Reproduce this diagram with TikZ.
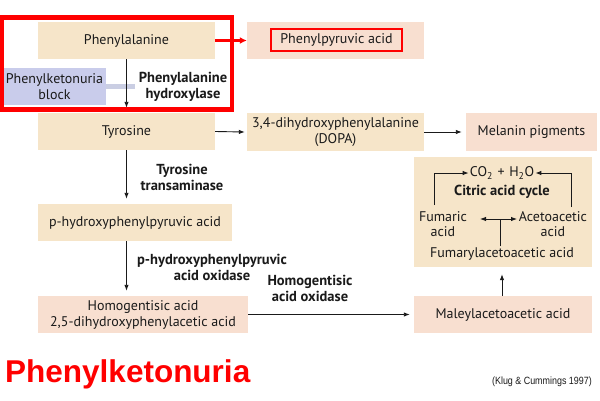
\documentclass[tikz,border=0pt]{standalone}
\usepackage{fontspec}
\setmainfont{PT Sans}
\newfontfamily\arialfont{Liberation Sans}
\usetikzlibrary{arrows.meta,calc,positioning}
\definecolor{tan}{HTML}{F6E5C9}
\definecolor{blush}{HTML}{F8DFD0}
\definecolor{pkublue}{HTML}{C9CCEB}
\definecolor{bargrey}{HTML}{CACEE3}
\definecolor{alarm}{HTML}{FF0000}
\definecolor{ink}{HTML}{1A1A1A}

\tikzset{
  chem/.style={fill=tan, inner sep=0pt, minimum height=37pt, align=center,
    text=ink, font=\fontsize{14}{16}\selectfont},
  pinkchem/.style={chem, fill=blush},
  enzyme/.style={align=center, text=ink, font=\bfseries\fontsize{14.5}{16}\selectfont},
  plain/.style={align=center, text=ink, inner sep=1pt, font=\fontsize{14}{15}\selectfont},
  arr/.style={draw=ink, line width=0.9pt, -{Latex[length=6pt,width=4.5pt]}},
}

\begin{document}
\begin{tikzpicture}[x=1pt, y=-1pt]
  \useasboundingbox[fill=white] (0,0) rectangle (600,400);

  % main pathway boxes
  \node[chem, minimum width=177pt] (phe) at (126.5,40.5) {Phenylalanine};
  \node[pinkchem, minimum width=177pt] (ppa) at (335.5,40.5) {};
  \node[draw=alarm, line width=1.8pt, minimum width=131pt, minimum height=22pt,
    inner sep=0pt, text=ink, font=\fontsize{14}{16}\selectfont] (ppatext) at (336.5,40) {Phenylpyruvic acid};
  \node[chem, minimum width=177pt] (tyr) at (126.5,131.5) {Tyrosine};
  \node[chem, minimum width=177pt, minimum height=38pt] (dopa) at (335.5,132)
    {3,4-dihydroxyphenylalanine\\(DOPA)};
  \node[pinkchem, minimum width=131pt, minimum height=38pt] (mel) at (531.5,132) {Melanin pigments};
  \node[chem, minimum width=194pt] (php) at (135,222.5) {p-hydroxyphenylpyruvic acid};
  \node[pinkchem, minimum width=210pt] (hga) at (143,314.5)
    {Homogentisic acid\\2,5-dihydroxyphenylacetic acid};
  \node[pinkchem, minimum width=178pt] (mla) at (503,314.5) {Maleylacetoacetic acid};
  \node[chem, minimum width=178pt, minimum height=110pt] (tca) at (503,212) {};

  % the block
  \node[fill=pkublue, minimum width=103pt, minimum height=37pt, inner sep=0pt, align=center,
    text=ink, font=\fontsize{14}{16}\selectfont] (pku) at (54.5,86.5) {Phenylketonuria\\block};
  \fill[bargrey] (pku.east |- 0,84) rectangle (135,89);

  % enzymes
  \node[enzyme] (hydrox) at (183,86.5) {Phenylalanine\\hydroxylase};
  \node[enzyme] (trans) at (182,177) {Tyrosine\\transaminase};
  \node[enzyme] (phpox) at (212,267) {p-hydroxyphenylpyruvic\\acid oxidase};
  \node[enzyme] (hgaox) at (310,288) {Homogentisic\\acid oxidase};

  % citric acid cycle
  \node[plain] (water) at (502,173) {CO\textsubscript{2}\,\,+\,\,H\textsubscript{2}O};
  \node[enzyme] (cycle) at (502,192) {Citric acid cycle};
  \node[plain] (fum) at (443,224.5) {Fumaric\\acid};
  \node[plain] (aca) at (553,224.5) {Acetoacetic\\acid};
  \node[plain] (faa) at (502,254) {Fumarylacetoacetic acid};
  \coordinate (fork) at (500,219);

  % arrows
  \draw[arr] (phe.south) -- ([yshift=5pt]tyr.north);
  \draw[arr] (tyr.east) -- ([xshift=-2pt]dopa.west);
  \draw[arr] (dopa.east) -- ([xshift=-4pt]mel.west);
  \draw[arr] (tyr.south) -- ([yshift=5pt]tyr.south |- php.north);
  \draw[arr] (tyr.south |- php.south) -- ([yshift=5pt]tyr.south |- hga.north);
  \draw[arr] (hga.east) -- ([xshift=-4pt]mla.west);
  \draw[arr] ([xshift=-1pt]mla.north) -- ([xshift=-1pt,yshift=-7pt]tca.south);
  \draw[arr] (434,205) |- (water.west);
  \draw[arr] (571,207) |- (water.east);
  \draw[arr, {Latex[length=6pt,width=4.5pt]}-{Latex[length=6pt,width=4.5pt]}]
    (480,219) -- (517,219);
  \draw[draw=ink, line width=0.9pt] (faa.north -| fork) -- (fork);

  % highlight
  \draw[alarm, line width=4.5pt] (2,17.5) rectangle (232,109.5);
  \draw[alarm, line width=3pt, -{Latex[length=7pt,width=7pt]}] (phe.east) -- (ppa.west);

  \node[alarm, anchor=base west, inner sep=0pt,
    font=\arialfont\bfseries\fontsize{31.5}{34}\selectfont] (title) at (5,382) {Phenylketonuria};
  \node[ink, anchor=base east, inner sep=0pt,
    font=\arialfont\fontsize{10.5}{12}\selectfont] (cite) at (592,384)
    {\scalebox{0.85}[1]{(Klug \& Cummings 1997)}};
\end{tikzpicture}
\end{document}
